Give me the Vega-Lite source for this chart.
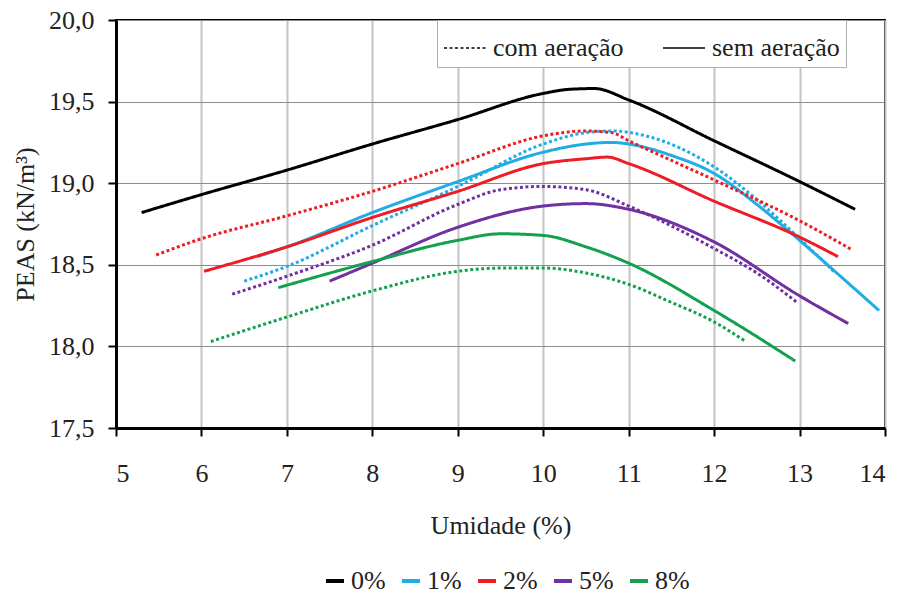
{
  "$schema": "https://vega.github.io/schema/vega-lite/v6.json",
  "width": 769,
  "height": 408,
  "autosize": {"type": "none"},
  "padding": {"left": 116, "top": 20, "right": 17, "bottom": 162},
  "background": "white",
  "config": {
    "view": {"stroke": "#000000", "strokeWidth": 2},
    "style": {
      "guide-label": {"font": "Times New Roman", "fontSize": 26, "fill": "#222222"},
      "guide-title": {"font": "Times New Roman", "fontSize": 26, "fontWeight": "normal", "fill": "#222222"}
    },
    "axis": {
      "labelFont": "Times New Roman",
      "titleFont": "Times New Roman",
      "labelFontSize": 26,
      "titleFontSize": 26,
      "titleFontWeight": "normal",
      "labelColor": "#222222",
      "titleColor": "#222222",
      "domainColor": "#000000",
      "domainWidth": 3,
      "tickColor": "#000000",
      "tickWidth": 2,
      "tickSize": 8
    },
    "legend": {
      "labelFont": "Times New Roman",
      "labelFontSize": 26,
      "labelColor": "#222222"
    }
  },
  "data": {
    "values": [
      {"teor": "0%", "aeracao": "sem aeração", "umidade": 5.3, "peas": 18.82},
      {"teor": "0%", "aeracao": "sem aeração", "umidade": 6, "peas": 18.93},
      {"teor": "0%", "aeracao": "sem aeração", "umidade": 7, "peas": 19.08},
      {"teor": "0%", "aeracao": "sem aeração", "umidade": 8, "peas": 19.24},
      {"teor": "0%", "aeracao": "sem aeração", "umidade": 9, "peas": 19.39},
      {"teor": "0%", "aeracao": "sem aeração", "umidade": 10, "peas": 19.55},
      {"teor": "0%", "aeracao": "sem aeração", "umidade": 10.3, "peas": 19.575},
      {"teor": "0%", "aeracao": "sem aeração", "umidade": 10.6, "peas": 19.58},
      {"teor": "0%", "aeracao": "sem aeração", "umidade": 11, "peas": 19.51},
      {"teor": "0%", "aeracao": "sem aeração", "umidade": 12, "peas": 19.26},
      {"teor": "0%", "aeracao": "sem aeração", "umidade": 13, "peas": 19.01},
      {"teor": "0%", "aeracao": "sem aeração", "umidade": 13.65, "peas": 18.84},

      {"teor": "1%", "aeracao": "sem aeração", "umidade": 6.65, "peas": 18.55},
      {"teor": "1%", "aeracao": "sem aeração", "umidade": 7, "peas": 18.61},
      {"teor": "1%", "aeracao": "sem aeração", "umidade": 8, "peas": 18.82},
      {"teor": "1%", "aeracao": "sem aeração", "umidade": 9, "peas": 19.01},
      {"teor": "1%", "aeracao": "sem aeração", "umidade": 10, "peas": 19.19},
      {"teor": "1%", "aeracao": "sem aeração", "umidade": 10.5, "peas": 19.24},
      {"teor": "1%", "aeracao": "sem aeração", "umidade": 10.8, "peas": 19.25},
      {"teor": "1%", "aeracao": "sem aeração", "umidade": 11, "peas": 19.24},
      {"teor": "1%", "aeracao": "sem aeração", "umidade": 11.5, "peas": 19.17},
      {"teor": "1%", "aeracao": "sem aeração", "umidade": 12, "peas": 19.06},
      {"teor": "1%", "aeracao": "sem aeração", "umidade": 12.5, "peas": 18.87},
      {"teor": "1%", "aeracao": "sem aeração", "umidade": 13, "peas": 18.65},
      {"teor": "1%", "aeracao": "sem aeração", "umidade": 13.5, "peas": 18.42},
      {"teor": "1%", "aeracao": "sem aeração", "umidade": 13.93, "peas": 18.22},

      {"teor": "1%", "aeracao": "com aeração", "umidade": 6.5, "peas": 18.4},
      {"teor": "1%", "aeracao": "com aeração", "umidade": 7, "peas": 18.49},
      {"teor": "1%", "aeracao": "com aeração", "umidade": 8, "peas": 18.74},
      {"teor": "1%", "aeracao": "com aeração", "umidade": 9, "peas": 18.98},
      {"teor": "1%", "aeracao": "com aeração", "umidade": 10, "peas": 19.24},
      {"teor": "1%", "aeracao": "com aeração", "umidade": 10.5, "peas": 19.31},
      {"teor": "1%", "aeracao": "com aeração", "umidade": 10.8, "peas": 19.32},
      {"teor": "1%", "aeracao": "com aeração", "umidade": 11.2, "peas": 19.29},
      {"teor": "1%", "aeracao": "com aeração", "umidade": 12, "peas": 19.1},
      {"teor": "1%", "aeracao": "com aeração", "umidade": 12.5, "peas": 18.9},
      {"teor": "1%", "aeracao": "com aeração", "umidade": 13, "peas": 18.66},
      {"teor": "1%", "aeracao": "com aeração", "umidade": 13.4, "peas": 18.46},

      {"teor": "2%", "aeracao": "sem aeração", "umidade": 6.03, "peas": 18.46},
      {"teor": "2%", "aeracao": "sem aeração", "umidade": 7, "peas": 18.61},
      {"teor": "2%", "aeracao": "sem aeração", "umidade": 8, "peas": 18.79},
      {"teor": "2%", "aeracao": "sem aeração", "umidade": 9, "peas": 18.95},
      {"teor": "2%", "aeracao": "sem aeração", "umidade": 10, "peas": 19.12},
      {"teor": "2%", "aeracao": "sem aeração", "umidade": 10.5, "peas": 19.15},
      {"teor": "2%", "aeracao": "sem aeração", "umidade": 10.75, "peas": 19.16},
      {"teor": "2%", "aeracao": "sem aeração", "umidade": 11, "peas": 19.12},
      {"teor": "2%", "aeracao": "sem aeração", "umidade": 12, "peas": 18.89},
      {"teor": "2%", "aeracao": "sem aeração", "umidade": 13, "peas": 18.67},
      {"teor": "2%", "aeracao": "sem aeração", "umidade": 13.45, "peas": 18.55},

      {"teor": "2%", "aeracao": "com aeração", "umidade": 5.47, "peas": 18.56},
      {"teor": "2%", "aeracao": "com aeração", "umidade": 6, "peas": 18.66},
      {"teor": "2%", "aeracao": "com aeração", "umidade": 7, "peas": 18.8},
      {"teor": "2%", "aeracao": "com aeração", "umidade": 8, "peas": 18.95},
      {"teor": "2%", "aeracao": "com aeração", "umidade": 9, "peas": 19.12},
      {"teor": "2%", "aeracao": "com aeração", "umidade": 10, "peas": 19.29},
      {"teor": "2%", "aeracao": "com aeração", "umidade": 10.5, "peas": 19.32},
      {"teor": "2%", "aeracao": "com aeração", "umidade": 10.8, "peas": 19.31},
      {"teor": "2%", "aeracao": "com aeração", "umidade": 11, "peas": 19.26},
      {"teor": "2%", "aeracao": "com aeração", "umidade": 12, "peas": 19.02},
      {"teor": "2%", "aeracao": "com aeração", "umidade": 13, "peas": 18.77},
      {"teor": "2%", "aeracao": "com aeração", "umidade": 13.62, "peas": 18.59},

      {"teor": "5%", "aeracao": "sem aeração", "umidade": 7.5, "peas": 18.4},
      {"teor": "5%", "aeracao": "sem aeração", "umidade": 8, "peas": 18.51},
      {"teor": "5%", "aeracao": "sem aeração", "umidade": 9, "peas": 18.73},
      {"teor": "5%", "aeracao": "sem aeração", "umidade": 10, "peas": 18.86},
      {"teor": "5%", "aeracao": "sem aeração", "umidade": 10.5, "peas": 18.875},
      {"teor": "5%", "aeracao": "sem aeração", "umidade": 11, "peas": 18.84},
      {"teor": "5%", "aeracao": "sem aeração", "umidade": 12, "peas": 18.64},
      {"teor": "5%", "aeracao": "sem aeração", "umidade": 13, "peas": 18.31},
      {"teor": "5%", "aeracao": "sem aeração", "umidade": 13.57, "peas": 18.14},

      {"teor": "5%", "aeracao": "com aeração", "umidade": 6.36, "peas": 18.32},
      {"teor": "5%", "aeracao": "com aeração", "umidade": 7, "peas": 18.43},
      {"teor": "5%", "aeracao": "com aeração", "umidade": 8, "peas": 18.62},
      {"teor": "5%", "aeracao": "com aeração", "umidade": 9, "peas": 18.87},
      {"teor": "5%", "aeracao": "com aeração", "umidade": 9.5, "peas": 18.96},
      {"teor": "5%", "aeracao": "com aeração", "umidade": 10, "peas": 18.98},
      {"teor": "5%", "aeracao": "com aeração", "umidade": 10.5, "peas": 18.96},
      {"teor": "5%", "aeracao": "com aeração", "umidade": 11, "peas": 18.86},
      {"teor": "5%", "aeracao": "com aeração", "umidade": 12, "peas": 18.6},
      {"teor": "5%", "aeracao": "com aeração", "umidade": 12.5, "peas": 18.45},
      {"teor": "5%", "aeracao": "com aeração", "umidade": 12.97, "peas": 18.27},

      {"teor": "8%", "aeracao": "sem aeração", "umidade": 6.9, "peas": 18.36},
      {"teor": "8%", "aeracao": "sem aeração", "umidade": 8, "peas": 18.52},
      {"teor": "8%", "aeracao": "sem aeração", "umidade": 9, "peas": 18.65},
      {"teor": "8%", "aeracao": "sem aeração", "umidade": 9.5, "peas": 18.69},
      {"teor": "8%", "aeracao": "sem aeração", "umidade": 10, "peas": 18.68},
      {"teor": "8%", "aeracao": "sem aeração", "umidade": 10.5, "peas": 18.61},
      {"teor": "8%", "aeracao": "sem aeração", "umidade": 11, "peas": 18.51},
      {"teor": "8%", "aeracao": "sem aeração", "umidade": 12, "peas": 18.22},
      {"teor": "8%", "aeracao": "sem aeração", "umidade": 12.95, "peas": 17.91},

      {"teor": "8%", "aeracao": "com aeração", "umidade": 6.11, "peas": 18.03},
      {"teor": "8%", "aeracao": "com aeração", "umidade": 7, "peas": 18.18},
      {"teor": "8%", "aeracao": "com aeração", "umidade": 8, "peas": 18.34},
      {"teor": "8%", "aeracao": "com aeração", "umidade": 9, "peas": 18.46},
      {"teor": "8%", "aeracao": "com aeração", "umidade": 9.5, "peas": 18.48},
      {"teor": "8%", "aeracao": "com aeração", "umidade": 10, "peas": 18.48},
      {"teor": "8%", "aeracao": "com aeração", "umidade": 10.5, "peas": 18.45},
      {"teor": "8%", "aeracao": "com aeração", "umidade": 11, "peas": 18.38},
      {"teor": "8%", "aeracao": "com aeração", "umidade": 11.5, "peas": 18.27},
      {"teor": "8%", "aeracao": "com aeração", "umidade": 12, "peas": 18.15},
      {"teor": "8%", "aeracao": "com aeração", "umidade": 12.37, "peas": 18.03}
    ]
  },
  "mark": {"type": "line", "strokeWidth": 3, "interpolate": "monotone", "strokeCap": "butt"},
  "encoding": {
    "x": {
      "field": "umidade",
      "type": "quantitative",
      "scale": {"domain": [5, 14], "nice": false, "zero": false},
      "axis": {
        "title": "Umidade (%)",
        "values": [5, 6, 7, 8, 9, 10, 11, 12, 13, 14],
        "labelFont": "Times New Roman",
        "titleFont": "Times New Roman",
        "labelFontSize": 26,
        "titleFontSize": 26,
        "labelPadding": 24,
        "titlePadding": 26,
        "gridColor": "#c4c4c4",
        "gridWidth": 2
      }
    },
    "y": {
      "field": "peas",
      "type": "quantitative",
      "scale": {"domain": [17.5, 20], "nice": false, "zero": false},
      "axis": {
        "title": "PEAS (kN/m³)",
        "values": [17.5, 18, 18.5, 19, 19.5, 20],
        "labelExpr": "replace(format(datum.value, '.1f'), '.', ',')",
        "labelFont": "Times New Roman",
        "titleFont": "Times New Roman",
        "labelFontSize": 26,
        "titleFontSize": 26,
        "labelPadding": 14,
        "titlePadding": 10,
        "gridColor": "#8c8c8c",
        "gridWidth": 1
      }
    },
    "color": {
      "field": "teor",
      "type": "nominal",
      "scale": {
        "domain": ["0%", "1%", "2%", "5%", "8%"],
        "range": ["#000000", "#1FADE4", "#EE1C25", "#7030A0", "#13A150"]
      },
      "legend": {
        "title": null,
        "orient": "none",
        "legendX": 206,
        "legendY": 548,
        "direction": "horizontal",
        "labelFont": "Times New Roman",
        "labelFontSize": 26,
        "symbolType": "stroke",
        "symbolStrokeWidth": 4,
        "symbolSize": 324,
        "symbolOffset": 0,
        "labelOffset": 3,
        "columnPadding": 8
      }
    },
    "strokeDash": {
      "field": "aeracao",
      "type": "nominal",
      "scale": {
        "domain": ["com aeração", "sem aeração"],
        "range": [[3, 2.5], [1, 0]]
      },
      "legend": {
        "title": null,
        "orient": "none",
        "legendX": 321,
        "legendY": 0,
        "direction": "horizontal",
        "labelFont": "Times New Roman",
        "labelFontSize": 26,
        "fillColor": "#ffffff",
        "strokeColor": "#b0b0b0",
        "padding": 6,
        "symbolType": "stroke",
        "symbolStrokeColor": "#000000",
        "symbolStrokeWidth": 1.5,
        "symbolSize": 1764,
        "labelOffset": 6,
        "columnPadding": 36
      }
    }
  }
}
